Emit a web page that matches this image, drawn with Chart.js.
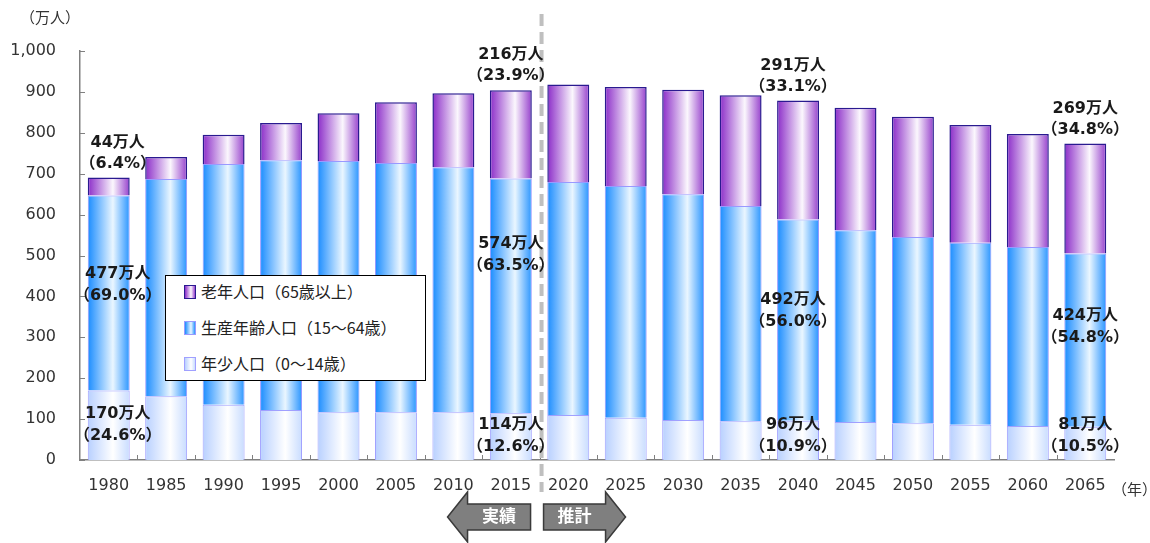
<!DOCTYPE html>
<html>
<head>
<meta charset="utf-8">
<script src="https://cdn.jsdelivr.net/npm/chart.js@4"></script>
<style>
  body { margin: 0; background: #fff; }
  #wrap { position: relative; width: 1150px; height: 543px; }
  .unit { position: absolute; font: 15px 'Noto Sans CJK JP', sans-serif; color: #333; }
  #legend { position: absolute; left: 165px; top: 275px; width: 259px; height: 104px;
    border: 1px solid #000; background: #fff; font: 16px 'Noto Sans CJK JP', sans-serif; color: #222; }
  #legend .item { position: absolute; left: 18px; height: 20px; line-height: 20px; white-space: nowrap; }
  #legend .sw { display: inline-block; width: 10px; height: 12px; margin-right: 5px; vertical-align: -1px; }
</style>
</head>
<body>
<div id="wrap">
  <canvas id="popChart"></canvas>
  <div class="unit" style="left:20px;top:6px;">（万人）</div>
  <div class="unit" style="left:1112px;top:478px;">（年）</div>
  <div id="legend">
    <div class="item" style="top:5px;"><span class="sw" style="background:linear-gradient(90deg,#8b2cc8,#fbf7fd 60%,#9640cc);border:1px solid #2a1a90;"></span>老年人口（65歳以上）</div>
    <div class="item" style="top:41px;"><span class="sw" style="background:linear-gradient(90deg,#1a8cff,#eaf6ff 60%,#2a95ff);border:1px solid #9999ff;"></span>生産年齢人口（15～64歳）</div>
    <div class="item" style="top:77px;"><span class="sw" style="background:linear-gradient(90deg,#b8d0ff,#ffffff 60%,#c8dcff);border:1px solid #a0a0ff;"></span>年少人口（0～14歳）</div>
  </div>
</div>
<script>
// data (万人)
var years = ['1980', '1985', '1990', '1995', '2000', '2005', '2010', '2015', '2020',
  '2025', '2030', '2035', '2040', '2045', '2050', '2055', '2060', '2065'];
var young = [170, 156, 135, 122, 117, 117, 117, 114, 110, 103, 98, 95, 96, 93, 90, 86, 83, 81];
var working = [477, 531, 589, 611, 614, 609, 599, 574, 570, 567, 552, 526, 492, 469, 455, 445, 438, 424];
var old = [44, 54, 71, 91, 117, 149, 181, 216, 238, 242, 255, 271, 291, 299, 294, 288, 276, 269];
var yTicks = [0, 100, 200, 300, 400, 500, 600, 700, 800, 900, 1000];
var labelled = [0, 7, 12, 17];   // bars with value labels
var splitAfter = 7;              // last actual year (2015), estimates follow

var BAR_PCT = 0.73;
var FONT = "'DejaVu Sans', 'Noto Sans CJK JP', sans-serif";
Chart.defaults.font.family = FONT;

// horizontal "cylinder" gradient for each bar
function barGradient(stops) {
  return function (ctx) {
    var chart = ctx.chart;
    var xs = chart.scales.x;
    if (!chart.chartArea || !xs) return stops[1];
    var c = xs.getPixelForValue(ctx.dataIndex);
    var w = (xs.getPixelForValue(1) - xs.getPixelForValue(0)) * BAR_PCT;
    var g = chart.ctx.createLinearGradient(c - w / 2, 0, c + w / 2, 0);
    g.addColorStop(0, stops[0]);
    g.addColorStop(0.6, stops[1]);
    g.addColorStop(1, stops[2]);
    return g;
  };
}

function pct(v, i) {
  var t = young[i] + working[i] + old[i];
  return '（' + (v / t * 100).toFixed(1) + '%）';
}

var extras = {
  id: 'extras',
  afterDatasetsDraw: function (chart) {
    var c = chart.ctx, xs = chart.scales.x, ys = chart.scales.y, ca = chart.chartArea;
    c.save();

    // axis tick marks (inside)
    c.strokeStyle = '#808080';
    c.lineWidth = 1;
    yTicks.forEach(function (t) {
      var y = Math.round(ys.getPixelForValue(t)) + 0.5;
      c.beginPath(); c.moveTo(ca.left, y); c.lineTo(ca.left + 5, y); c.stroke();
    });
    for (var k = 1; k < years.length; k++) {
      var bx = Math.round((xs.getPixelForValue(k - 1) + xs.getPixelForValue(k)) / 2) + 0.5;
      c.beginPath(); c.moveTo(bx, ca.bottom); c.lineTo(bx, ca.bottom - 5); c.stroke();
    }

    // dashed divider between actual and estimate
    var dx = (xs.getPixelForValue(splitAfter) + xs.getPixelForValue(splitAfter + 1)) / 2 + 2;
    c.strokeStyle = '#bfbfbf';
    c.lineWidth = 4;
    c.setLineDash([12, 6]);
    c.beginPath(); c.moveTo(dx, 14); c.lineTo(dx, 492); c.stroke();
    c.setLineDash([]);

    // value labels
    c.fillStyle = '#1a1a1a';
    c.font = 'bold 16px ' + FONT;
    c.textAlign = 'center';
    c.textBaseline = 'middle';
    var metaY = chart.getDatasetMeta(0), metaW = chart.getDatasetMeta(1), metaO = chart.getDatasetMeta(2);
    var midShift = { 0: -8, 7: -41, 12: -9, 17: -13 };
    var xShift = { 0: 9, 12: -5 };
    labelled.forEach(function (i) {
      var x = metaO.data[i].x + (xShift[i] || 0);
      var top = metaO.data[i].y;
      c.fillText(old[i] + '万人', x, top - 35);
      c.fillText(pct(old[i], i), x, top - 14);
      var wm = (metaW.data[i].y + metaW.data[i].base) / 2 + midShift[i];
      c.fillText(working[i] + '万人', x, wm - 11);
      c.fillText(pct(working[i], i), x, wm + 11);
      var ym = Math.min((metaY.data[i].y + metaY.data[i].base) / 2, ca.bottom - 24);
      c.fillText(young[i] + '万人', x, ym - 11);
      c.fillText(pct(young[i], i), x, ym + 11);
    });

    // arrows 実績 / 推計
    function arrow(x0, x1, dir, text) {
      var yc = 517, bh = 13, hh = 25, hl = 20;
      c.beginPath();
      if (dir < 0) {
        c.moveTo(x0, yc); c.lineTo(x0 + hl, yc - hh); c.lineTo(x0 + hl, yc - bh);
        c.lineTo(x1, yc - bh); c.lineTo(x1, yc + bh); c.lineTo(x0 + hl, yc + bh);
        c.lineTo(x0 + hl, yc + hh); c.closePath();
      } else {
        c.moveTo(x0, yc - bh); c.lineTo(x1 - hl, yc - bh); c.lineTo(x1 - hl, yc - hh);
        c.lineTo(x1, yc); c.lineTo(x1 - hl, yc + hh); c.lineTo(x1 - hl, yc + bh);
        c.lineTo(x0, yc + bh); c.closePath();
      }
      c.fillStyle = '#7f7f7f';
      c.fill();
      c.strokeStyle = '#3a3a3a';
      c.lineWidth = 1.5;
      c.stroke();
      c.fillStyle = '#fff';
      c.font = 'bold 17px ' + FONT;
      var tx = dir < 0 ? (x0 + hl + x1) / 2 : (x0 + x1 - hl) / 2;
      c.fillText(text, tx, yc + 1);
    }
    arrow(dx - 94, dx - 11, -1, '実績');
    arrow(dx + 2, dx + 84, 1, '推計');

    c.restore();
  }
};

new Chart(document.getElementById('popChart'), {
  type: 'bar',
  data: {
    labels: years,
    datasets: [
      {
        label: '年少人口（0～14歳）',
        data: young,
        backgroundColor: barGradient(['#b8d0ff', '#ffffff', '#c8dcff']),
        borderColor: '#a0a0ff',
        borderWidth: 1
      },
      {
        label: '生産年齢人口（15～64歳）',
        data: working,
        backgroundColor: barGradient(['#1a8cff', '#eaf6ff', '#2a95ff']),
        borderColor: '#9999ff',
        borderWidth: 1
      },
      {
        label: '老年人口（65歳以上）',
        data: old,
        backgroundColor: barGradient(['#8b2cc8', '#fbf7fd', '#9640cc']),
        borderColor: '#2a1a90',
        borderWidth: 1.5
      }
    ]
  },
  options: {
    responsive: true,
    maintainAspectRatio: false,
    animation: false,
    layout: { padding: { top: 51, right: 36, bottom: 53, left: 0 } },
    datasets: { bar: { categoryPercentage: 1, barPercentage: BAR_PCT } },
    plugins: { legend: { display: false }, tooltip: { enabled: false } },
    scales: {
      x: {
        stacked: true,
        grid: { display: false },
        border: { display: true, color: '#808080', width: 1.5 },
        ticks: { color: '#333', font: { size: 16 }, padding: 8, maxRotation: 0 },
        afterFit: function (s) { s.height = 30; }
      },
      y: {
        stacked: true,
        min: 0,
        max: 1000,
        afterBuildTicks: function (s) { s.ticks = yTicks.map(function (v) { return { value: v }; }); },
        grid: { display: false },
        border: { display: true, color: '#808080', width: 1.5 },
        ticks: {
          color: '#333', font: { size: 16 }, padding: 16,
          callback: function (v) { return v.toLocaleString('en-US'); }
        },
        afterFit: function (s) { s.width = 80; }
      }
    }
  },
  plugins: [extras]
});
</script>
</body>
</html>
